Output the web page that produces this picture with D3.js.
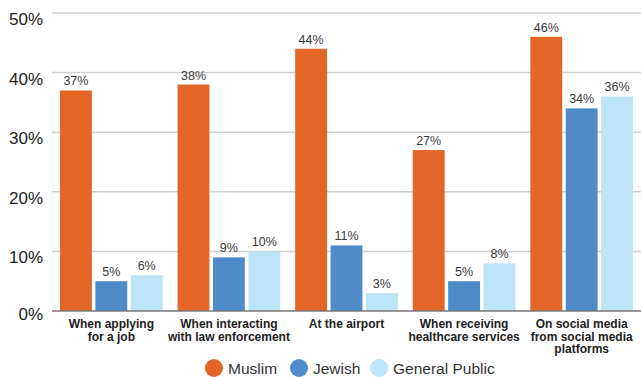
<!DOCTYPE html>
<html>
<head>
<meta charset="utf-8">
<script src="https://cdn.jsdelivr.net/npm/d3@7"></script>
<style>
  body { margin: 0; background: #fff; }
  svg { display: block; font-family: "Liberation Sans", Arial, sans-serif; }
</style>
</head>
<body>
<div class="chart"></div>
<script>
const categories = [
  ['When applying', 'for a job'],
  ['When interacting', 'with law enforcement'],
  ['At the airport'],
  ['When receiving', 'healthcare services'],
  ['On social media', 'from social media', 'platforms']
]
const seriesNames = ['Muslim', 'Jewish', 'General Public']
const muslim = [37, 38, 44, 27, 46]
const jewish = [5, 9, 11, 5, 34]
const generalPublic = [6, 10, 3, 8, 36]
const yTicks = [0, 10, 20, 30, 40, 50]

const colors = ['#e36626', '#4f8bc9', '#bde4f6']
const series = [muslim, jewish, generalPublic]

const width = 641, height = 377
const mLeft = 52, mRight = 641, mTop = 13, mBottom = 311

const svg = d3.select('.chart').append('svg')
  .attr('width', width)
  .attr('height', height)

const y = d3.scaleLinear().domain([0, 50]).range([mBottom, mTop])

const x0 = d3.scaleBand()
  .domain(d3.range(categories.length))
  .range([mLeft, mRight])
  .paddingInner(0.127)
  .paddingOuter(0.068)

const x1 = d3.scaleBand()
  .domain(d3.range(series.length))
  .range([0, x0.bandwidth()])
  .paddingInner(0.1)

// gridlines
svg.append('g')
  .selectAll('line')
  .data(yTicks.filter(t => t > 0))
  .enter()
  .append('line')
  .attr('x1', mLeft).attr('x2', mRight)
  .attr('y1', d => y(d)).attr('y2', d => y(d))
  .attr('stroke', '#cfcfcf')
  .attr('stroke-width', 1.5)

// y labels
svg.append('g')
  .selectAll('text')
  .data(yTicks)
  .enter()
  .append('text')
  .attr('x', 43)
  .attr('y', d => y(d) + (d === 0 ? 9 : 12))
  .attr('text-anchor', 'end')
  .attr('font-size', 17)
  .attr('fill', '#222')
  .text(d => d + '%')

// bars
const groups = svg.append('g')
  .selectAll('g')
  .data(categories.map((c, i) => i))
  .enter()
  .append('g')
  .attr('transform', i => `translate(${x0(i)},0)`)

groups.selectAll('rect')
  .data(i => series.map((s, j) => ({ s: j, v: s[i] })))
  .enter()
  .append('rect')
  .attr('x', d => x1(d.s))
  .attr('y', d => y(d.v))
  .attr('width', x1.bandwidth())
  .attr('height', d => y(0) - y(d.v))
  .attr('fill', d => colors[d.s])

groups.selectAll('text.val')
  .data(i => series.map((s, j) => ({ s: j, v: s[i] })))
  .enter()
  .append('text')
  .attr('class', 'val')
  .attr('x', d => x1(d.s) + x1.bandwidth() / 2)
  .attr('y', d => y(d.v) - 5)
  .attr('text-anchor', 'middle')
  .attr('font-size', 12.5)
  .attr('fill', '#3a3a3a')
  .text(d => d.v + '%')

// baseline
svg.append('line')
  .attr('x1', mLeft).attr('x2', mRight)
  .attr('y1', y(0)).attr('y2', y(0))
  .attr('stroke', '#777')
  .attr('stroke-width', 1.5)

// category labels
groups.append('text')
  .attr('text-anchor', 'middle')
  .attr('font-size', 12)
  .attr('font-weight', 'bold')
  .attr('fill', '#222')
  .selectAll('tspan')
  .data(i => categories[i])
  .enter()
  .append('tspan')
  .attr('x', x0.bandwidth() / 2)
  .attr('y', (d, k) => 328 + k * 12.5)
  .text(d => d)

// legend
const legendX = [214, 299, 379]
const legend = svg.append('g')
  .selectAll('g')
  .data(seriesNames)
  .enter()
  .append('g')
  .attr('transform', (d, i) => `translate(${legendX[i]},368)`)

legend.append('circle')
  .attr('r', 9)
  .attr('fill', (d, i) => colors[i])

legend.append('text')
  .attr('x', 14)
  .attr('y', 5.5)
  .attr('font-size', 15.5)
  .attr('fill', '#333')
  .text(d => d)
</script>
</body>
</html>
